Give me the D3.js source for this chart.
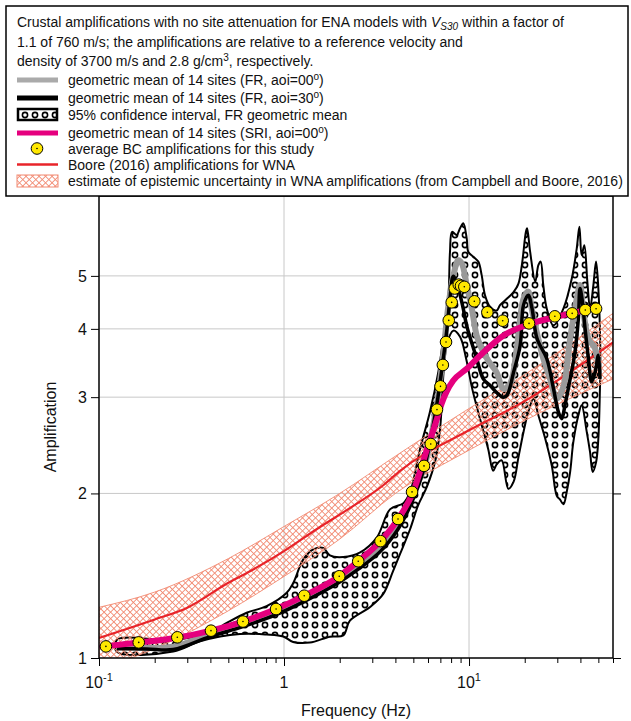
<!DOCTYPE html>
<html>
<head>
<meta charset="utf-8">
<script src="https://cdn.jsdelivr.net/npm/d3@7"></script>
<style>
  body { margin: 0; background: #fff; }
  text { font-family: "Liberation Sans", Arial, Helvetica, sans-serif; fill: #111; }
</style>
</head>
<body>
<svg id="chart" width="631" height="721"></svg>
<script>
// ---- data: [frequency (Hz), amplification] ----
const bcPoints = [[0.109,1.050],[0.164,1.068],[0.265,1.091],[0.403,1.122],[0.600,1.166],[0.906,1.229],[1.286,1.300],[1.988,1.411],[2.518,1.503],[3.324,1.636],[4.132,1.796],[4.92,2.013],[5.71,2.246],[6.21,2.463],[6.71,2.847],[7.01,3.140],[7.22,3.436],[7.51,3.784],[7.77,4.146],[8.06,4.473],[8.37,4.741],[8.80,4.82],[9.05,4.795],[9.43,4.775],[10.68,4.493],[12.56,4.29],[15.21,4.14],[21.1,4.093],[29.1,4.217],[36.1,4.27],[42.5,4.33],[48.6,4.355]];

const sriMean00 = [[0.104,1.049],[0.1645,1.067],[0.264,1.089],[0.403,1.122],[0.600,1.166],[0.906,1.229],[1.283,1.299],[1.98,1.410],[2.51,1.502],[3.32,1.635],[4.13,1.795],[4.98,2.010],[5.93,2.411],[6.71,2.737],[7.10,2.916],[7.55,3.068],[8.20,3.214],[9.72,3.381],[11.9,3.617],[15.3,3.886],[21.1,4.08],[29.2,4.203],[42.4,4.329],[46,4.36]];

const frMean00 = [[0.125,1.049],[0.252,1.049],[0.398,1.108],[0.600,1.156],[0.906,1.216],[1.28,1.285],[1.98,1.39],[2.51,1.477],[3.32,1.60],[4.13,1.756],[4.92,1.977],[5.71,2.23],[6.21,2.52],[6.71,2.92],[7.26,3.60],[7.7,4.36],[8.22,5.0],[8.75,5.34],[9.14,5.27],[9.72,4.81],[10.35,4.36],[11.0,3.89],[11.71,3.68],[12.7,3.50],[14.1,3.33],[15.3,3.11],[16.7,3.18],[18.1,3.68],[19.7,4.54],[20.9,4.68],[21.8,4.36],[23.2,3.95],[25.2,3.53],[27.4,3.24],[29.8,2.98],[32.4,3.14],[35.2,3.84],[38.2,4.54],[39.8,4.81],[41.5,4.30],[44.2,3.84],[48.0,3.68],[50.0,3.43]];

const frMean30 = [[0.125,1.040],[0.181,1.039],[0.252,1.036],[0.398,1.094],[0.600,1.141],[0.906,1.20],[1.28,1.268],[1.98,1.375],[2.51,1.452],[3.32,1.567],[4.13,1.72],[4.92,1.93],[5.71,2.22],[6.21,2.52],[6.71,2.92],[7.26,3.53],[7.6,4.00],[7.89,4.54],[8.22,4.99],[8.75,4.74],[9.3,4.36],[9.72,4.05],[11.0,3.53],[11.94,3.24],[13.0,3.15],[14.1,3.06],[15.3,3.00],[16.1,3.03],[17.4,3.33],[18.9,3.73],[19.7,4.42],[20.9,4.61],[21.9,4.36],[23.3,3.84],[26.3,3.53],[28.6,3.11],[30.4,2.82],[31.7,2.74],[33.0,2.90],[35.2,3.24],[37.4,3.63],[39.0,4.18],[39.8,4.74],[40.8,4.54],[42.4,4.00],[44.2,3.53],[46.0,3.20],[48.0,3.33],[50.0,3.58],[51.0,3.24]];

const ciUpper = [[0.125,1.080],[0.252,1.080],[0.398,1.113],[0.490,1.159],[0.628,1.21],[0.805,1.244],[1.034,1.316],[1.123,1.373],[1.271,1.515],[1.44,1.58],[1.63,1.59],[1.77,1.54],[2.09,1.53],[2.58,1.56],[3.17,1.66],[3.74,1.87],[4.42,1.92],[4.80,2.01],[5.43,2.41],[6.15,2.82],[6.83,3.34],[7.26,3.84],[7.73,4.54],[7.89,5.53],[8.1,6.02],[8.58,5.94],[8.94,6.11],[9.31,6.24],[9.72,5.85],[9.91,5.53],[10.55,5.42],[11.22,5.31],[11.71,5.01],[12.2,4.61],[13.0,4.39],[14.1,4.32],[14.7,4.42],[16.0,4.54],[17.4,4.67],[18.5,4.84],[19.3,5.23],[20.3,6.02],[20.6,6.11],[21.4,5.53],[22.8,4.88],[23.7,5.23],[24.4,5.31],[25.2,4.81],[26.3,4.36],[28.6,4.06],[32.4,4.36],[35.9,4.94],[38.2,5.61],[39.5,6.15],[40.6,5.46],[42.0,5.69],[43.6,4.88],[45.1,4.36],[47.0,4.81],[48.6,5.31],[50.0,4.74],[51.3,3.43]];

const ciLower = [[0.125,1.026],[0.252,1.028],[0.352,1.073],[0.578,1.106],[0.805,1.104],[0.99,1.095],[1.12,1.07],[1.38,1.067],[1.77,1.094],[2.09,1.10],[2.27,1.17],[2.92,1.24],[3.44,1.31],[3.88,1.44],[4.24,1.55],[4.80,1.72],[5.30,1.90],[5.93,2.06],[6.6,2.31],[6.97,2.62],[7.57,3.73],[8.22,3.97],[8.94,3.87],[9.64,3.53],[10.4,3.11],[11.46,2.74],[12.7,2.41],[13.5,2.20],[14.1,2.26],[15.0,2.30],[16.3,2.04],[17.4,2.10],[18.5,2.33],[19.7,2.59],[20.9,2.82],[22.3,2.98],[23.7,2.78],[25.8,2.52],[28.0,2.25],[29.8,1.98],[31.0,1.95],[32.4,1.91],[33.7,2.01],[35.2,2.19],[36.6,2.48],[39.0,2.78],[40.6,2.90],[43.3,2.59],[45.1,2.38],[46.6,2.19],[48.6,2.28],[50.0,2.52],[51.0,3.11]];

const booreWNA = [[0.1,1.088],[0.2,1.176],[0.3,1.236],[0.5,1.373],[0.655,1.441],[1,1.569],[1.5,1.72],[2.27,1.88],[3.44,2.07],[4.24,2.20],[10,2.61],[18.9,2.92],[60,3.78]];

const epiFreq  = [0.1, 0.2, 0.5, 1, 2, 4, 10, 20, 60];
const epiUpper = [1.238, 1.32, 1.52, 1.74, 2.0, 2.34, 2.86, 3.30, 4.27];
const epiLower = [0.955, 1.04, 1.22, 1.41, 1.65, 2.0, 2.40, 2.72, 3.24];

const xMajorTicks = [0.1, 1, 10];
const xMajorLabels = [["10", "-1"], ["1", null], ["10", "1"]];
const yTicks = [1, 2, 3, 4, 5];
const yGrid = [2, 3, 4, 5];

// ---- layout ----
const svg = d3.select("#chart");
const plot = { left: 99, right: 613, top: 196, bottom: 658 };
const x = d3.scaleLog().domain([0.1, 60]).range([plot.left, plot.right]);
const y = d3.scaleLog().domain([1, 7]).range([plot.bottom, plot.top]);

const colors = {
  gray: "#999999", black: "#000000", magenta: "#e5007e",
  yellow: "#ffe800", red: "#e8242a", hatch: "#f28a72", grid: "#c8c8c8"
};

// ---- defs: clip + fill patterns ----
const defs = svg.append("defs");
defs.append("clipPath").attr("id", "plotClip")
  .append("rect").attr("x", plot.left).attr("y", plot.top)
  .attr("width", plot.right - plot.left).attr("height", plot.bottom - plot.top);

const dots = defs.append("pattern").attr("id", "dots")
  .attr("patternUnits", "userSpaceOnUse").attr("width", 10).attr("height", 10);
dots.append("rect").attr("width", 10).attr("height", 10).attr("fill", "#fff");
dots.append("circle").attr("cx", 5).attr("cy", 5).attr("r", 2.6)
  .attr("fill", "none").attr("stroke", "#000").attr("stroke-width", 1.6);

const hatch = defs.append("pattern").attr("id", "hatch")
  .attr("patternUnits", "userSpaceOnUse").attr("width", 4.6).attr("height", 4.6)
  .attr("patternTransform", "rotate(45)");
hatch.append("path").attr("d", "M0,0.45H4.6M0.45,0V4.6")
  .attr("stroke", colors.hatch).attr("stroke-width", 0.9).attr("fill", "none");

// ---- grid ----
const grid = svg.append("g");
grid.selectAll("line.gx").data([1, 10]).join("line")
  .attr("x1", d => x(d)).attr("x2", d => x(d))
  .attr("y1", plot.top).attr("y2", plot.bottom)
  .attr("stroke", colors.grid).attr("stroke-width", 1);
grid.selectAll("line.gy").data(yGrid).join("line")
  .attr("x1", plot.left).attr("x2", plot.right)
  .attr("y1", d => y(d)).attr("y2", d => y(d))
  .attr("stroke", colors.grid).attr("stroke-width", 1);

const marks = svg.append("g").attr("clip-path", "url(#plotClip)");

// 95% confidence interval of the FR geometric mean
const ciRing = ciUpper.concat(ciLower.slice().reverse());
const ringLine = d3.line().x(d => x(d[0])).y(d => y(d[1]))
  .curve(d3.curveCatmullRomClosed.alpha(0.5));
marks.append("path").attr("d", ringLine(ciRing))
  .attr("fill", "url(#dots)").attr("stroke", "#000").attr("stroke-width", 2)
  .attr("stroke-linejoin", "round");

// WNA epistemic uncertainty band
const epi = epiFreq.map((f, i) => ({ f, lo: epiLower[i], hi: epiUpper[i] }));
marks.append("path")
  .attr("d", d3.area().x(d => x(d.f)).y0(d => y(d.lo)).y1(d => y(d.hi))
    .curve(d3.curveMonotoneX)(epi))
  .attr("fill", "url(#hatch)").attr("stroke", colors.hatch).attr("stroke-width", 0.9);

// Boore (2016) WNA amplification
const smooth = d3.line().x(d => x(d[0])).y(d => y(d[1])).curve(d3.curveMonotoneX);
marks.append("path").attr("d", smooth(booreWNA))
  .attr("fill", "none").attr("stroke", colors.red).attr("stroke-width", 2.2);

// FR geometric means
const wiggle = d3.line().x(d => x(d[0])).y(d => y(d[1])).curve(d3.curveCatmullRom.alpha(0.5));
marks.append("path").attr("d", wiggle(frMean00))
  .attr("fill", "none").attr("stroke", colors.gray).attr("stroke-width", 6)
  .attr("stroke-linejoin", "round");
marks.append("path").attr("d", wiggle(frMean30))
  .attr("fill", "none").attr("stroke", colors.black).attr("stroke-width", 3.5)
  .attr("stroke-linejoin", "round");

// SRI geometric mean
marks.append("path").attr("d", smooth(sriMean00))
  .attr("fill", "none").attr("stroke", colors.magenta).attr("stroke-width", 6)
  .attr("stroke-linecap", "round");

// BC amplification points
const pts = marks.append("g").selectAll("g").data(bcPoints).join("g")
  .attr("transform", d => `translate(${x(d[0])},${y(d[1])})`);
pts.append("circle").attr("r", 5.8).attr("fill", colors.yellow)
  .attr("stroke", "#000").attr("stroke-width", 1);
pts.append("circle").attr("r", 0.8).attr("fill", "#000");

// ---- axes ----
const minorX = [];
for (const dec of [0.1, 1, 10]) for (let k = 1; k <= 9; k++) {
  const v = +(dec * k).toPrecision(3);
  if (v >= 0.1 && v <= 60) minorX.push(v);
}
const axisB = svg.append("g").attr("transform", `translate(0,${plot.bottom})`)
  .call(d3.axisBottom(x).tickValues(minorX).tickFormat("").tickSize(5).tickSizeOuter(0));
axisB.selectAll(".tick line").attr("stroke", "#000").attr("stroke-width", 1)
  .attr("y2", d => xMajorTicks.includes(d) ? 8 : 5);
axisB.select(".domain").attr("stroke", "none");

const axisL = svg.append("g").attr("transform", `translate(${plot.left},0)`)
  .call(d3.axisLeft(y).tickValues(yTicks).tickFormat("").tickSize(8).tickSizeOuter(0));
axisL.select(".domain").attr("stroke", "none");
axisL.selectAll(".tick line").attr("stroke", "#000");
const axisR = svg.append("g").attr("transform", `translate(${plot.right},0)`)
  .call(d3.axisRight(y).tickValues(yTicks).tickFormat("").tickSize(8).tickSizeOuter(0));
axisR.select(".domain").attr("stroke", "none");
axisR.selectAll(".tick line").attr("stroke", "#000");

// frame
svg.append("rect").attr("x", plot.left).attr("y", plot.top)
  .attr("width", plot.right - plot.left).attr("height", plot.bottom - plot.top)
  .attr("fill", "none").attr("stroke", "#000").attr("stroke-width", 1.5);

// tick labels
const xl = svg.append("g").selectAll("text").data(xMajorTicks).join("text")
  .attr("x", d => x(d)).attr("y", 688).attr("text-anchor", "middle")
  .attr("font-size", 16);
xl.each(function (d, i) {
  const [base, exp] = xMajorLabels[i];
  const t = d3.select(this);
  t.append("tspan").text(base);
  if (exp) t.append("tspan").attr("font-size", 11).attr("dy", -7).text(exp);
});
svg.append("g").selectAll("text").data(yTicks).join("text")
  .attr("x", plot.left - 12).attr("y", d => y(d) + 6)
  .attr("text-anchor", "end").attr("font-size", 16).text(d => d);

// axis titles
svg.append("text").attr("x", (plot.left + plot.right) / 2).attr("y", 716)
  .attr("text-anchor", "middle").attr("font-size", 16).text("Frequency (Hz)");
svg.append("text").attr("transform", `translate(56,${(plot.top + plot.bottom) / 2}) rotate(-90)`)
  .attr("text-anchor", "middle").attr("font-size", 16).text("Amplification");

// ---- legend ----
const lg = svg.append("g");
lg.append("rect").attr("x", 6).attr("y", 6).attr("width", 622).attr("height", 190)
  .attr("fill", "#fff").attr("stroke", "#000").attr("stroke-width", 1.5);

const fs = 14;
const p1 = lg.append("text").attr("x", 17).attr("y", 27).attr("font-size", fs);
p1.append("tspan").text("Crustal amplifications with no site attenuation for ENA models with ");
p1.append("tspan").attr("font-style", "italic").text("V");
p1.append("tspan").attr("font-style", "italic").attr("font-size", 10).attr("dy", 3).text("S30");
p1.append("tspan").attr("dy", -3).text(" within a factor of");
lg.append("text").attr("x", 17).attr("y", 47).attr("font-size", fs)
  .text("1.1 of 760 m/s; the amplifications are relative to a reference velocity and");
const p3 = lg.append("text").attr("x", 17).attr("y", 66).attr("font-size", fs);
p3.append("tspan").text("density of 3700 m/s and 2.8 g/cm");
p3.append("tspan").attr("font-size", 10).attr("dy", -5).text("3");
p3.append("tspan").attr("dy", 5).text(", respectively.");

const sx0 = 17, sx1 = 58, tx = 68;
function degLabel(yb, pre, post) {
  const t = lg.append("text").attr("x", tx).attr("y", yb).attr("font-size", fs);
  t.append("tspan").text(pre);
  t.append("tspan").attr("font-size", 10).attr("dy", -5).text("o");
  t.append("tspan").attr("dy", 5).text(post);
}
// gray line
lg.append("line").attr("x1", sx0).attr("x2", sx1).attr("y1", 80).attr("y2", 80)
  .attr("stroke", "#aaa").attr("stroke-width", 5);
degLabel(85, "geometric mean of 14 sites (FR, aoi=00", ")");
// black line
lg.append("line").attr("x1", sx0).attr("x2", sx1).attr("y1", 98).attr("y2", 98)
  .attr("stroke", "#000").attr("stroke-width", 5);
degLabel(103, "geometric mean of 14 sites (FR, aoi=30", ")");
// CI swatch
lg.append("rect").attr("x", sx0 + 1).attr("y", 109).attr("width", sx1 - sx0 - 2).attr("height", 11)
  .attr("fill", "url(#dots)").attr("stroke", "#000").attr("stroke-width", 2.5);
lg.append("text").attr("x", tx).attr("y", 120).attr("font-size", fs)
  .text("95% confidence interval, FR geometric mean");
// magenta line
lg.append("line").attr("x1", sx0).attr("x2", sx1).attr("y1", 133).attr("y2", 133)
  .attr("stroke", colors.magenta).attr("stroke-width", 5);
degLabel(137.5, "geometric mean of 14 sites (SRI, aoi=00", ")");
// yellow point
lg.append("circle").attr("cx", 37).attr("cy", 148.5).attr("r", 5.8)
  .attr("fill", colors.yellow).attr("stroke", "#000").attr("stroke-width", 1);
lg.append("circle").attr("cx", 37).attr("cy", 148.5).attr("r", 0.8).attr("fill", "#000");
lg.append("text").attr("x", tx).attr("y", 153.5).attr("font-size", fs)
  .text("average BC amplifications for this study");
// red line
lg.append("line").attr("x1", sx0).attr("x2", sx1).attr("y1", 164.5).attr("y2", 164.5)
  .attr("stroke", colors.red).attr("stroke-width", 2.5);
lg.append("text").attr("x", tx).attr("y", 169.5).attr("font-size", fs)
  .text("Boore (2016) amplifications for WNA");
// hatch swatch
lg.append("rect").attr("x", sx0).attr("y", 175).attr("width", sx1 - sx0).attr("height", 12)
  .attr("fill", "url(#hatch)").attr("stroke", colors.hatch).attr("stroke-width", 1);
lg.append("text").attr("x", tx).attr("y", 186).attr("font-size", fs)
  .text("estimate of epistemic uncertainty in WNA amplifications (from Campbell and Boore, 2016)");
</script>
</body>
</html>
